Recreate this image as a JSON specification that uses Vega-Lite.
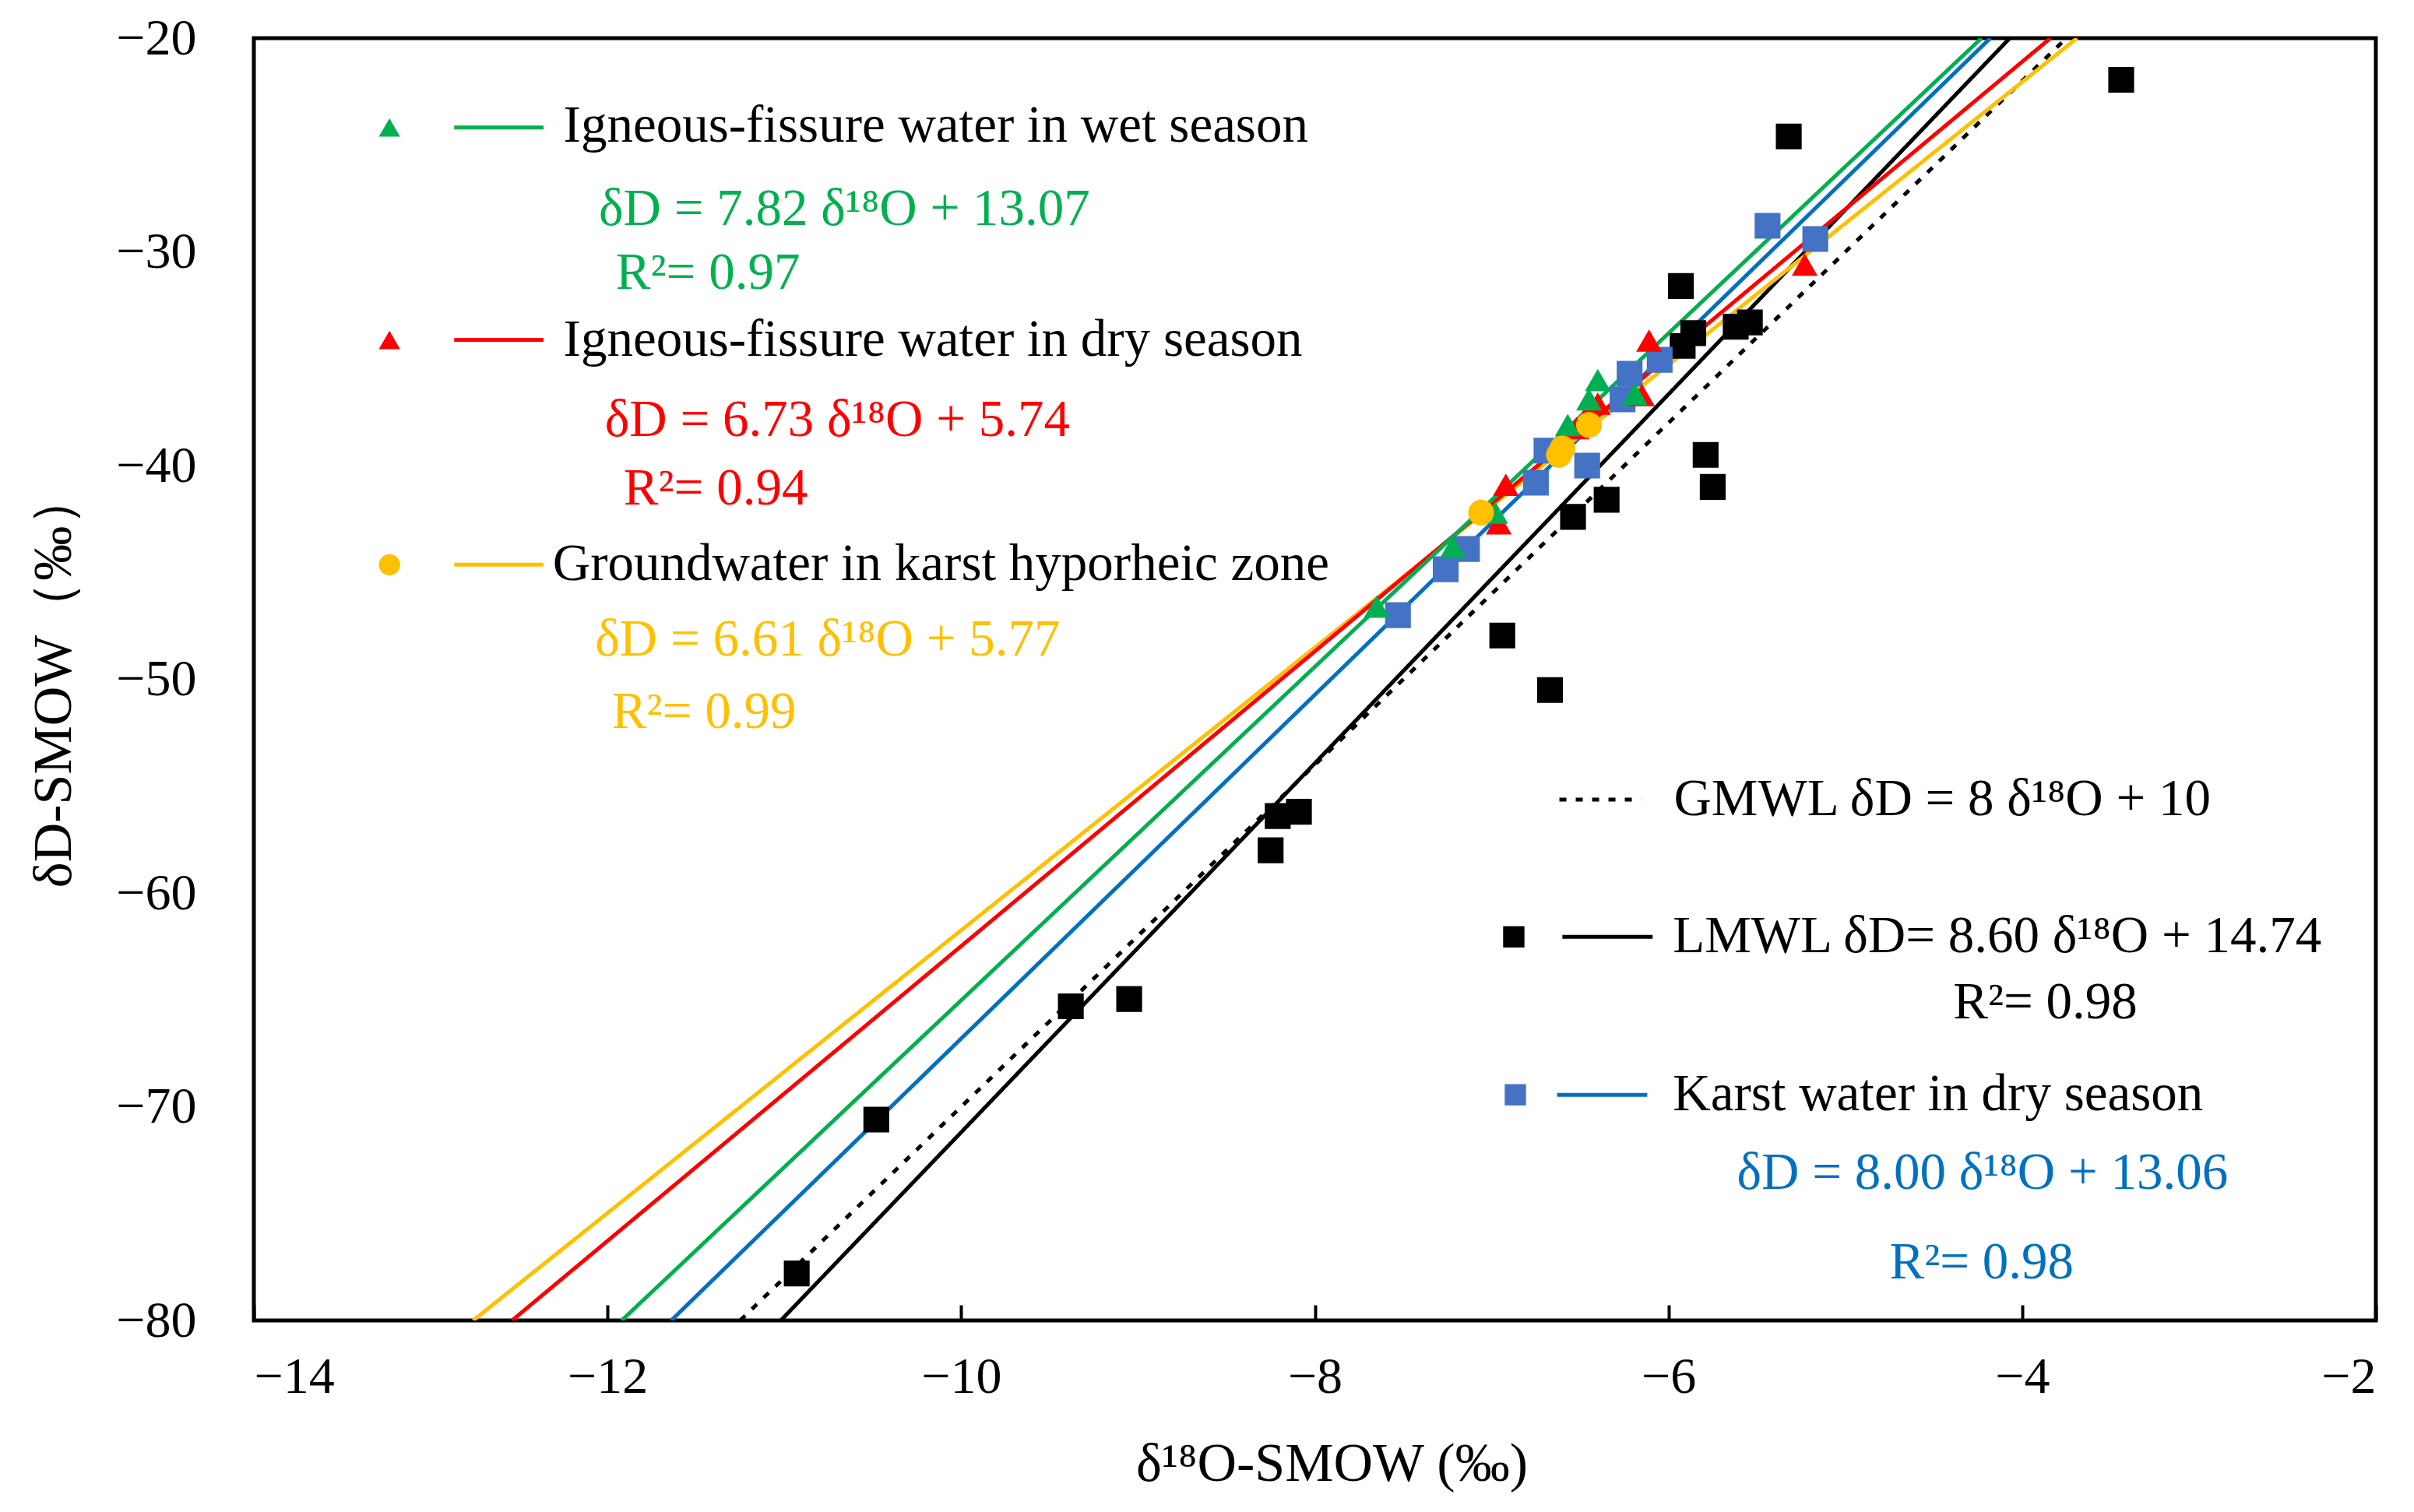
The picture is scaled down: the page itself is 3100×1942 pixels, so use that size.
{
  "$schema": "https://vega.github.io/schema/vega-lite/v6.json",
  "width": 2725,
  "height": 1647,
  "autosize": {"type": "none"},
  "padding": {"left": 326, "top": 49, "right": 49, "bottom": 246},
  "background": "white",
  "config": {
    "view": {"stroke": "#000000", "strokeWidth": 5},
    "font": "Liberation Serif",
    "axis": {
      "grid": false,
      "domain": false,
      "labelFont": "Liberation Serif",
      "labelFontSize": 66,
      "labelColor": "#000000",
      "titleFont": "Liberation Serif",
      "titleFontSize": 70,
      "titleFontWeight": "normal",
      "titleColor": "#000000"
    }
  },
  "datasets": {
    "points": [
      {"d18O": -3.44, "dD": -21.95, "group": "LMWL"},
      {"d18O": -5.32, "dD": -24.6, "group": "LMWL"},
      {"d18O": -5.93, "dD": -31.6, "group": "LMWL"},
      {"d18O": -5.86, "dD": -33.8, "group": "LMWL"},
      {"d18O": -5.92, "dD": -34.4, "group": "LMWL"},
      {"d18O": -5.62, "dD": -33.5, "group": "LMWL"},
      {"d18O": -5.54, "dD": -33.3, "group": "LMWL"},
      {"d18O": -5.79, "dD": -39.5, "group": "LMWL"},
      {"d18O": -5.75, "dD": -41.0, "group": "LMWL"},
      {"d18O": -6.35, "dD": -41.6, "group": "LMWL"},
      {"d18O": -6.54, "dD": -42.4, "group": "LMWL"},
      {"d18O": -6.94, "dD": -47.95, "group": "LMWL"},
      {"d18O": -6.67, "dD": -50.5, "group": "LMWL"},
      {"d18O": -8.09, "dD": -56.2, "group": "LMWL"},
      {"d18O": -8.21, "dD": -56.4, "group": "LMWL"},
      {"d18O": -8.25, "dD": -58.0, "group": "LMWL"},
      {"d18O": -9.38, "dD": -65.3, "group": "LMWL"},
      {"d18O": -9.05, "dD": -64.96, "group": "LMWL"},
      {"d18O": -10.48, "dD": -70.6, "group": "LMWL"},
      {"d18O": -10.93, "dD": -77.8, "group": "LMWL"},
      {"d18O": -5.44, "dD": -28.78, "group": "karst"},
      {"d18O": -5.17, "dD": -29.4, "group": "karst"},
      {"d18O": -6.05, "dD": -35.05, "group": "karst"},
      {"d18O": -6.22, "dD": -35.7, "group": "karst"},
      {"d18O": -6.26, "dD": -36.9, "group": "karst"},
      {"d18O": -6.69, "dD": -39.3, "group": "karst"},
      {"d18O": -6.46, "dD": -40.0, "group": "karst"},
      {"d18O": -6.75, "dD": -40.8, "group": "karst"},
      {"d18O": -7.14, "dD": -43.9, "group": "karst"},
      {"d18O": -7.26, "dD": -44.85, "group": "karst"},
      {"d18O": -7.53, "dD": -47.0, "group": "karst"},
      {"d18O": -6.11, "dD": -34.15, "group": "dry"},
      {"d18O": -5.23, "dD": -30.6, "group": "dry"},
      {"d18O": -6.15, "dD": -36.7, "group": "dry"},
      {"d18O": -6.40, "dD": -37.1, "group": "dry"},
      {"d18O": -6.46, "dD": -37.6, "group": "dry"},
      {"d18O": -6.52, "dD": -38.25, "group": "dry"},
      {"d18O": -6.92, "dD": -40.9, "group": "dry"},
      {"d18O": -6.96, "dD": -42.7, "group": "dry"},
      {"d18O": -6.40, "dD": -36.0, "group": "wet"},
      {"d18O": -6.45, "dD": -36.9, "group": "wet"},
      {"d18O": -6.57, "dD": -38.1, "group": "wet"},
      {"d18O": -6.19, "dD": -36.65, "group": "wet"},
      {"d18O": -6.98, "dD": -42.2, "group": "wet"},
      {"d18O": -7.22, "dD": -43.8, "group": "wet"},
      {"d18O": -7.65, "dD": -46.6, "group": "wet"},
      {"d18O": -6.45, "dD": -38.1, "group": "hyporheic"},
      {"d18O": -6.60, "dD": -39.2, "group": "hyporheic"},
      {"d18O": -6.62, "dD": -39.5, "group": "hyporheic"},
      {"d18O": -7.06, "dD": -42.2, "group": "hyporheic"}
    ],
    "lines": [
      {"d18O": -11.25, "dD": -80, "group": "GMWL"},
      {"d18O": -3.75, "dD": -20, "group": "GMWL"},
      {"d18O": -11.02, "dD": -80, "group": "LMWL"},
      {"d18O": -4.07, "dD": -20, "group": "LMWL"},
      {"d18O": -11.64, "dD": -80, "group": "karst"},
      {"d18O": -4.18, "dD": -20, "group": "karst"},
      {"d18O": -12.76, "dD": -80, "group": "hyporheic"},
      {"d18O": -3.69, "dD": -20, "group": "hyporheic"},
      {"d18O": -12.54, "dD": -80, "group": "dry"},
      {"d18O": -3.84, "dD": -20, "group": "dry"},
      {"d18O": -11.92, "dD": -80, "group": "wet"},
      {"d18O": -4.23, "dD": -20, "group": "wet"}
    ],
    "keyLines": [
      {"d18O": -12.867, "dD": -24.18, "group": "wet"},
      {"d18O": -12.362, "dD": -24.18, "group": "wet"},
      {"d18O": -12.867, "dD": -34.12, "group": "dry"},
      {"d18O": -12.362, "dD": -34.12, "group": "dry"},
      {"d18O": -12.867, "dD": -44.64, "group": "hyporheic"},
      {"d18O": -12.362, "dD": -44.64, "group": "hyporheic"},
      {"d18O": -6.617, "dD": -55.63, "group": "GMWL"},
      {"d18O": -6.154, "dD": -55.63, "group": "GMWL"},
      {"d18O": -6.60, "dD": -62.05, "group": "LMWL"},
      {"d18O": -6.09, "dD": -62.05, "group": "LMWL"},
      {"d18O": -6.63, "dD": -69.44, "group": "karst"},
      {"d18O": -6.12, "dD": -69.44, "group": "karst"}
    ],
    "keyPts": [
      {"d18O": -13.233, "dD": -24.18, "group": "wet"},
      {"d18O": -13.233, "dD": -34.12, "group": "dry"},
      {"d18O": -13.233, "dD": -44.64, "group": "hyporheic"},
      {"d18O": -6.875, "dD": -62.05, "group": "LMWL"},
      {"d18O": -6.866, "dD": -69.44, "group": "karst"}
    ],
    "notes": [
      {"d18O": -12.249, "dD": -24.11, "group": "name", "text": "Igneous-fissure water in wet season"},
      {"d18O": -12.049, "dD": -28.0, "group": "wet", "text": "δD = 7.82 δ¹⁸O  + 13.07"},
      {"d18O": -11.953, "dD": -31.02, "group": "wet", "text": "R²= 0.97"},
      {"d18O": -12.249, "dD": -34.12, "group": "name", "text": "Igneous-fissure water in dry season"},
      {"d18O": -12.015, "dD": -37.87, "group": "dry", "text": "δD = 6.73 δ¹⁸O  + 5.74"},
      {"d18O": -11.909, "dD": -41.11, "group": "dry", "text": "R²= 0.94"},
      {"d18O": -12.31, "dD": -44.64, "group": "name", "text": "Groundwater in karst hyporheic zone"},
      {"d18O": -12.07, "dD": -48.17, "group": "hyporheic", "text": "δD = 6.61 δ¹⁸O  + 5.77"},
      {"d18O": -11.975, "dD": -51.56, "group": "hyporheic", "text": "R²= 0.99"},
      {"d18O": -5.97, "dD": -55.63, "group": "name", "text": "GMWL δD  = 8 δ¹⁸O + 10"},
      {"d18O": -5.975, "dD": -62.05, "group": "name", "text": "LMWL  δD= 8.60 δ¹⁸O  + 14.74"},
      {"d18O": -4.39, "dD": -65.14, "group": "name", "text": "R²= 0.98"},
      {"d18O": -5.975, "dD": -69.44, "group": "name", "text": "Karst water in dry season"},
      {"d18O": -5.613, "dD": -73.1, "group": "karst", "text": "δD = 8.00 δ¹⁸O  + 13.06"},
      {"d18O": -4.75, "dD": -77.3, "group": "karst", "text": "R²= 0.98"}
    ]
  },
  "encoding": {
    "x": {
      "field": "d18O",
      "type": "quantitative",
      "title": "δ¹⁸O-SMOW (‰)",
      "scale": {"domain": [-14, -2], "nice": false, "zero": false},
      "axis": {
        "values": [-14, -12, -10, -8, -6, -4, -2],
        "ticks": true,
        "tickSize": -20,
        "tickWidth": 4,
        "tickColor": "#000000",
        "labelFont": "Liberation Serif",
        "labelFontSize": 66,
        "labelPadding": 60,
        "titleFont": "Liberation Serif",
        "titlePadding": 45,
        "titleX": 1384
      }
    },
    "y": {
      "field": "dD",
      "type": "quantitative",
      "title": "δD-SMOW（‰）",
      "scale": {"domain": [-80, -20], "nice": false, "zero": false},
      "axis": {
        "values": [-80, -70, -60, -50, -40, -30, -20],
        "ticks": false,
        "labelFont": "Liberation Serif",
        "labelFontSize": 66,
        "labelPadding": 74,
        "titleFont": "Liberation Serif",
        "titlePadding": 43
      }
    }
  },
  "resolve": {"scale": {"size": "independent"}},
  "layer": [
    {
      "data": {"name": "lines"},
      "mark": {"type": "line", "clip": true, "strokeWidth": 5},
      "encoding": {
        "detail": {"field": "group"},
        "stroke": {
          "field": "group",
          "type": "nominal",
          "legend": null,
          "scale": {
            "domain": ["wet", "dry", "hyporheic", "karst", "LMWL", "GMWL"],
            "range": ["#00B050", "#FF0000", "#FFC000", "#0070C0", "#000000", "#000000"]
          }
        },
        "strokeDash": {
          "field": "group",
          "type": "nominal",
          "legend": null,
          "scale": {
            "domain": ["wet", "dry", "hyporheic", "karst", "LMWL", "GMWL"],
            "range": [[1, 0], [1, 0], [1, 0], [1, 0], [1, 0], [9, 12]]
          }
        }
      }
    },
    {
      "data": {"name": "keyLines"},
      "mark": {"type": "line", "strokeWidth": 5},
      "encoding": {
        "detail": {"field": "group"},
        "stroke": {"field": "group", "type": "nominal", "legend": null},
        "strokeDash": {"field": "group", "type": "nominal", "legend": null}
      }
    },
    {
      "data": {"name": "points"},
      "mark": {"type": "point", "filled": true, "opacity": 1, "clip": true},
      "encoding": {
        "shape": {
          "field": "group",
          "type": "nominal",
          "legend": null,
          "scale": {
            "domain": ["wet", "dry", "hyporheic", "karst", "LMWL"],
            "range": ["triangle-up", "triangle-up", "circle", "square", "square"]
          }
        },
        "fill": {
          "field": "group",
          "type": "nominal",
          "legend": null,
          "scale": {
            "domain": ["wet", "dry", "hyporheic", "karst", "LMWL"],
            "range": ["#00B050", "#FF0000", "#FFC000", "#4472C4", "#000000"]
          }
        },
        "size": {
          "field": "group",
          "type": "nominal",
          "legend": null,
          "scale": {
            "domain": ["wet", "dry", "hyporheic", "karst", "LMWL"],
            "range": [1100, 1100, 800, 580, 580]
          }
        }
      }
    },
    {
      "data": {"name": "keyPts"},
      "mark": {"type": "point", "filled": true, "opacity": 1},
      "encoding": {
        "shape": {"field": "group", "type": "nominal", "legend": null},
        "fill": {"field": "group", "type": "nominal", "legend": null},
        "size": {
          "field": "group",
          "type": "nominal",
          "legend": null,
          "scale": {
            "domain": ["wet", "dry", "hyporheic", "karst", "LMWL"],
            "range": [750, 750, 520, 420, 420]
          }
        }
      }
    },
    {
      "data": {"name": "notes"},
      "mark": {"type": "text", "align": "left", "baseline": "middle", "font": "Liberation Serif", "fontSize": 67},
      "encoding": {
        "text": {"field": "text"},
        "color": {
          "field": "group",
          "type": "nominal",
          "legend": null,
          "scale": {
            "domain": ["name", "wet", "dry", "hyporheic", "karst"],
            "range": ["#000000", "#00B050", "#FF0000", "#FFC000", "#0070C0"]
          }
        }
      }
    }
  ]
}
